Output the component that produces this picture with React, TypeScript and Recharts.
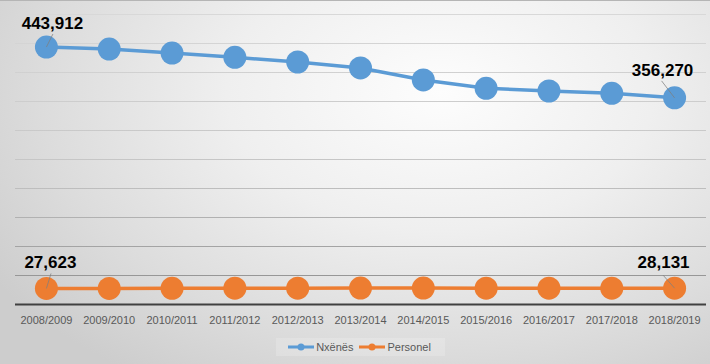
import React from 'react';
import { LineChart, Line, XAxis, YAxis, CartesianGrid, Legend, LabelList } from 'recharts';

const categories = ['2008/2009', '2009/2010', '2010/2011', '2011/2012', '2012/2013', '2013/2014', '2014/2015', '2015/2016', '2016/2017', '2017/2018', '2018/2019'];
const nxenes = [443912, 440500, 433600, 426200, 418100, 407800, 387100, 372800, 368100, 364100, 356270];
const personel = [27623, 27800, 27950, 28050, 28150, 28250, 28300, 28200, 28150, 28100, 28131];
const yTicks = [0, 50000, 100000, 150000, 200000, 250000, 300000, 350000, 400000, 450000, 500000];

const data = categories.map((c, i) => ({ year: c, 'Nxënës': nxenes[i], Personel: personel[i] }));

const BLUE = '#5B9BD5';
const ORANGE = '#ED7D31';
const FONT = '"Liberation Sans", Arial, sans-serif';

type Off = { dx: number; dy: number; lx: number; ly: number };
const labelOffsets: Record<string, { first: Off; last: Off }> = {
  nx: { first: { dx: 6, dy: -24, lx: 6.5, ly: -13 }, last: { dx: -12, dy: -27.5, lx: -13, ly: -17 } },
  pe: { first: { dx: 4, dy: -26, lx: 4.6, ly: -15 }, last: { dx: -11, dy: -26, lx: -11.5, ly: -13 } },
};

const makeLabel = (key: string) => (props: any) => {
  const { x, y, value, index } = props;
  const last = categories.length - 1;
  const o = index === 0 ? labelOffsets[key].first : index === last ? labelOffsets[key].last : null;
  if (!o) return null;
  return (
    <g>
      <line x1={x + o.lx} y1={y + o.ly} x2={x} y2={y} stroke="#7f7f7f" strokeWidth={0.75} />
      <text x={x + o.dx} y={y + o.dy} textAnchor="middle" dominantBaseline="central" fontFamily={FONT} fontWeight="bold" fontSize={17} fill="#000">
        {Number(value).toLocaleString('en-US')}
      </text>
    </g>
  );
};

const renderLegend = (props: any) => {
  const { payload } = props;
  return (
    <div style={{ display: 'flex', justifyContent: 'center', height: 24, alignItems: 'center' }}>
      <div style={{ display: 'flex', alignItems: 'center', background: 'rgba(255,255,255,0.18)', padding: '3px 8px 3px 12px', fontFamily: FONT, fontSize: 11, color: '#595959' }}>
        {(payload || []).map((e: any) => (
          <span key={e.value} style={{ display: 'flex', alignItems: 'center', marginRight: 6 }}>
            <svg width={26} height={10} style={{ marginRight: 2 }}>
              <line x1={0} y1={5} x2={26} y2={5} stroke={e.color} strokeWidth={3} />
              <circle cx={13} cy={5} r={3.5} fill={e.color} />
            </svg>
            <span>{e.value}</span>
          </span>
        ))}
      </div>
    </div>
  );
};

export default function App() {
  return (
    <div
      style={{
        position: 'absolute',
        left: 0,
        top: 0,
        width: 710,
        height: 364,
        background: 'radial-gradient(ellipse 75% 95% at 62% 25%, #fdfdfd 0%, #efefef 40%, #dcdcdc 75%, #cdcdcd 100%)',
        borderTop: '1px solid #b5b5b5',
        boxSizing: 'border-box',
      }}
    >
      <div style={{ position: 'absolute', left: 0, top: -1 }}>
        <LineChart width={710} height={364} data={data} margin={{ top: 14.5, right: 4, left: 15, bottom: 5.5 }}>
          <defs>
            <linearGradient id="gridGrad" gradientUnits="userSpaceOnUse" x1="0" y1="14" x2="0" y2="305">
              <stop offset="0%" stopColor="#d8d8d8" />
              <stop offset="55%" stopColor="#c4c4c4" />
              <stop offset="100%" stopColor="#8a8a8a" />
            </linearGradient>
          </defs>
          <CartesianGrid vertical={false} stroke="url(#gridGrad)" strokeWidth={1} syncWithTicks />
          <XAxis
            dataKey="year"
            scale="band"
            height={30}
            tickLine={false}
            tickSize={0}
            tickMargin={12}
            axisLine={{ stroke: '#404040', strokeWidth: 2 }}
            tick={{ fill: '#595959', fontSize: 11, fontFamily: FONT }}
            interval={0}
          />
          <YAxis hide domain={[0, 500000]} ticks={yTicks} />
          <Legend verticalAlign="bottom" content={renderLegend} />
          <Line
            dataKey="Nxënës"
            stroke={BLUE}
            strokeWidth={3.5}
            dot={{ r: 11.5, fill: BLUE, stroke: 'none' }}
            activeDot={false}
            isAnimationActive={false}
          >
            <LabelList dataKey="Nxënës" content={makeLabel('nx')} />
          </Line>
          <Line
            dataKey="Personel"
            stroke={ORANGE}
            strokeWidth={3.5}
            dot={{ r: 11.5, fill: ORANGE, stroke: 'none' }}
            activeDot={false}
            isAnimationActive={false}
          >
            <LabelList dataKey="Personel" content={makeLabel('pe')} />
          </Line>
        </LineChart>
      </div>
    </div>
  );
}
